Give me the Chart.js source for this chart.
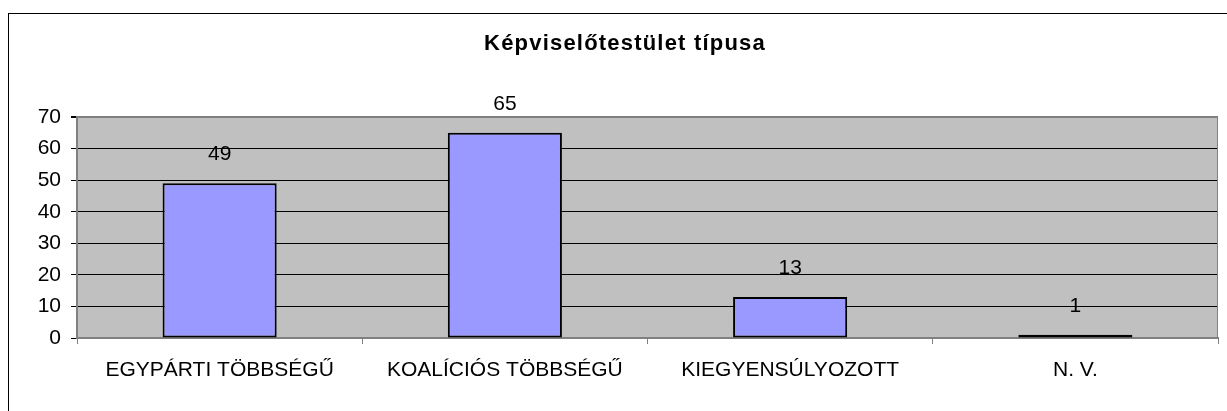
<!DOCTYPE html>
<html>
<head>
<meta charset="utf-8">
<script src="https://cdn.jsdelivr.net/npm/chart.js@4/dist/chart.umd.min.js"></script>
<style>
  html, body { margin: 0; padding: 0; background: #fff; overflow: hidden; }
  #wrap { position: absolute; left: 0; top: 0; width: 1227px; height: 411px; }
  #frame { position: absolute; left: 8px; top: 13px; width: 1300px; height: 500px; border: 1px solid #000; pointer-events: none; }
</style>
</head>
<body>
<div id="wrap"><canvas id="typeChart"></canvas></div>
<div id="frame"></div>
<script>
var categories = ['EGYPÁRTI TÖBBSÉGŰ', 'KOALÍCIÓS TÖBBSÉGŰ', 'KIEGYENSÚLYOZOTT', 'N. V.'];
var counts = [49, 65, 13, 1];
var chartTitle = 'Képviselőtestület típusa';
var yMin = 0, yMax = 70, yStep = 10;

var fontName = "'Liberation Sans', Arial, sans-serif";

// gray plot area + its outline
var plotBg = {
    id: 'plotBg',
    beforeDraw: function(chart) {
        var a = chart.chartArea, ctx = chart.ctx;
        ctx.save();
        ctx.fillStyle = '#C0C0C0';
        ctx.fillRect(a.left, a.top, a.right - a.left, a.bottom - a.top);
        ctx.restore();
    },
    afterDatasetsDraw: function(chart) {
        var a = chart.chartArea, ctx = chart.ctx;
        ctx.save();
        ctx.strokeStyle = '#808080';
        ctx.lineWidth = 1;
        ctx.beginPath();
        ctx.moveTo(a.right - 0.5, a.top);
        ctx.lineTo(a.right - 0.5, a.bottom);
        ctx.stroke();
        ctx.restore();
    }
};

// value labels above bars
var valueLabels = {
    id: 'valueLabels',
    afterDatasetsDraw: function(chart) {
        var ctx = chart.ctx;
        var meta = chart.getDatasetMeta(0);
        ctx.save();
        ctx.font = '21px ' + fontName;
        ctx.fillStyle = '#000';
        ctx.textAlign = 'center';
        ctx.textBaseline = 'middle';
        meta.data.forEach(function(bar, i) {
            ctx.fillText(String(counts[i]), bar.x, bar.y - 29);
        });
        ctx.restore();
    }
};

// spaced-out bold title, like the original
var spacedTitle = {
    id: 'spacedTitle',
    afterDraw: function(chart) {
        var ctx = chart.ctx;
        ctx.save();
        ctx.font = 'bold 22px ' + fontName;
        if ('letterSpacing' in ctx) ctx.letterSpacing = '1.2px';
        ctx.fillStyle = '#000';
        ctx.textAlign = 'center';
        ctx.textBaseline = 'middle';
        ctx.fillText(chartTitle, 625, 44);
        ctx.restore();
    }
};

var ctx = document.getElementById('typeChart');
var typeChart = new Chart(ctx, {
    type: 'bar',
    data: {
        labels: categories,
        datasets: [{
            data: counts,
            backgroundColor: '#9999FF',
            borderColor: '#000000',
            borderWidth: 2,
            borderSkipped: false,
            barPercentage: 1,
            categoryPercentage: 0.4
        }]
    },
    options: {
        responsive: true,
        maintainAspectRatio: false,
        animation: false,
        layout: { padding: { left: 0, right: 9, top: 117, bottom: 0 } },
        plugins: {
            legend: { display: false },
            tooltip: { enabled: false },
            title: { display: false }
        },
        scales: {
            x: {
                grid: {
                    display: true,
                    drawOnChartArea: false,
                    offset: true,
                    tickLength: 6,
                    tickColor: '#808080',
                    color: '#808080'
                },
                border: { display: true, color: '#808080', width: 2 },
                ticks: {
                    color: '#000',
                    padding: 14,
                    maxRotation: 0,
                    autoSkip: false,
                    font: { family: fontName, size: 21 }
                },
                afterFit: function(scale) { scale.height = 73; }
            },
            y: {
                min: yMin,
                max: yMax,
                grid: {
                    color: function(c) {
                        return (c.tick && (c.tick.value === yMin || c.tick.value === yMax)) ? '#808080' : '#000000';
                    },
                    lineWidth: function(c) {
                        return (c.tick && c.tick.value === yMax) ? 2 : 1;
                    },
                    tickLength: 6,
                    tickColor: '#000000'
                },
                border: { display: true, color: '#808080', width: 2 },
                ticks: {
                    stepSize: yStep,
                    color: '#000',
                    padding: 10,
                    font: { family: fontName, size: 21 }
                },
                afterFit: function(scale) { scale.width = 77; }
            }
        }
    },
    plugins: [plotBg, valueLabels, spacedTitle]
});
</script>
</body>
</html>
